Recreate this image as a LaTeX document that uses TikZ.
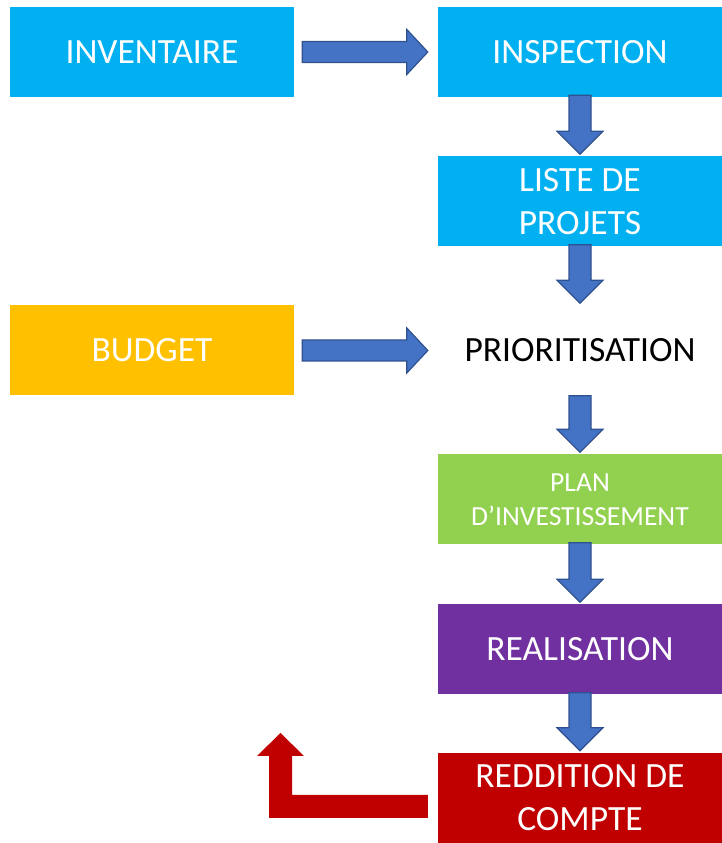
\documentclass[tikz,border=0pt]{standalone}
\usepackage{fontspec}
\setmainfont{Carlito}
\usetikzlibrary{calc}
\definecolor{boxcyan}{HTML}{00B0F0}
\definecolor{boxorange}{HTML}{FFC000}
\definecolor{boxgreen}{HTML}{92D050}
\definecolor{boxpurple}{HTML}{7030A0}
\definecolor{boxred}{HTML}{C00000}
\definecolor{arrowfill}{HTML}{4472C4}
\definecolor{arrowline}{HTML}{2F528F}
\begin{document}
\begin{tikzpicture}[x=1pt,y=1pt,
  stepbox/.style={rectangle, minimum width=284, minimum height=90, inner sep=0pt,
    text=white, align=center, font=\fontsize{35.5}{43}\selectfont},
  plainstep/.style={stepbox, text=black},
  smallstep/.style={stepbox, font=\fontsize{27.6}{34}\selectfont},
  blockarrow/.style={draw=arrowline, fill=arrowfill, line width=1.2pt, line join=miter},
  hblock/.style={blockarrow, to path={let \p1=(\tikztostart), \p2=(\tikztotarget) in
    (\x1,\y1+10.5) -- (\x2-21,\y1+10.5) -- (\x2-21,\y1+22.5) -- (\x2,\y1)
    -- (\x2-21,\y1-22.5) -- (\x2-21,\y1-10.5) -- (\x1,\y1-10.5) -- cycle}},
  vblock/.style={blockarrow, to path={let \p1=(\tikztostart), \p2=(\tikztotarget) in
    (\x1-11,\y1) -- (\x1-11,\y2+23) -- (\x1-23,\y2+23) -- (\x1,\y2)
    -- (\x1+23,\y2+23) -- (\x1+11,\y2+23) -- (\x1+11,\y1) -- cycle}},
  returnblock/.style={fill=boxred, draw=none, to path={let \p1=(\tikztostart), \p2=(\tikztotarget) in
    (\x1,\y1+11.5) -- (\x2+11.5,\y1+11.5) -- (\x2+11.5,\y2-23) -- (\x2+23.5,\y2-23)
    -- (\x2,\y2) -- (\x2-23.5,\y2-23) -- (\x2-11.5,\y2-23) -- (\x2-11.5,\y1-11.5)
    -- (\x1,\y1-11.5) -- cycle}}]
\useasboundingbox (0,0) rectangle (721,843);

% process steps
\node[stepbox, fill=boxcyan] (inv) at (152,791) {INVENTAIRE};
\node[stepbox, fill=boxcyan] (insp) at (580,791) {INSPECTION};
\node[stepbox, fill=boxcyan] (liste) at (580,641.5) {LISTE DE\\PROJETS};
\node[stepbox, fill=boxorange] (budget) at (152,492.5) {BUDGET};
\node[plainstep] (prio) at (580,492.5) {PRIORITISATION};
\node[smallstep, fill=boxgreen] (plan) at (580,343.5) {PLAN\\D’INVESTISSEMENT};
\node[stepbox, fill=boxpurple] (real) at (580,193.5) {REALISATION};
\node[stepbox, fill=boxred] (redd) at (580,45) {REDDITION DE\\COMPTE};

% block arrows between the steps
\draw[hblock] ($(inv.east)+(8,0)$) to ($(insp.west)+(-10,0)$);
\draw[hblock] ($(budget.east)+(8,0)$) to ($(prio.west)+(-10,0)$);
\draw[vblock] ($(insp.south)+(0,2)$) to ($(liste.north)+(0,2)$);
\draw[vblock] ($(liste.south)+(0,2)$) to ($(prio.north)+(0,2)$);
\draw[vblock] ($(prio.south)+(0,0)$) to ($(plan.north)+(0,2)$);
\draw[vblock] ($(plan.south)+(0,2)$) to ($(real.north)+(0,2)$);
\draw[vblock] ($(real.south)+(0,2)$) to ($(redd.north)+(0,2)$);

% feedback arrow leaving the last step
\coordinate (loop) at (280.5,110);
\path[returnblock] ($(redd.west)+(-10,-8.5)$) to (loop);
\end{tikzpicture}
\end{document}
